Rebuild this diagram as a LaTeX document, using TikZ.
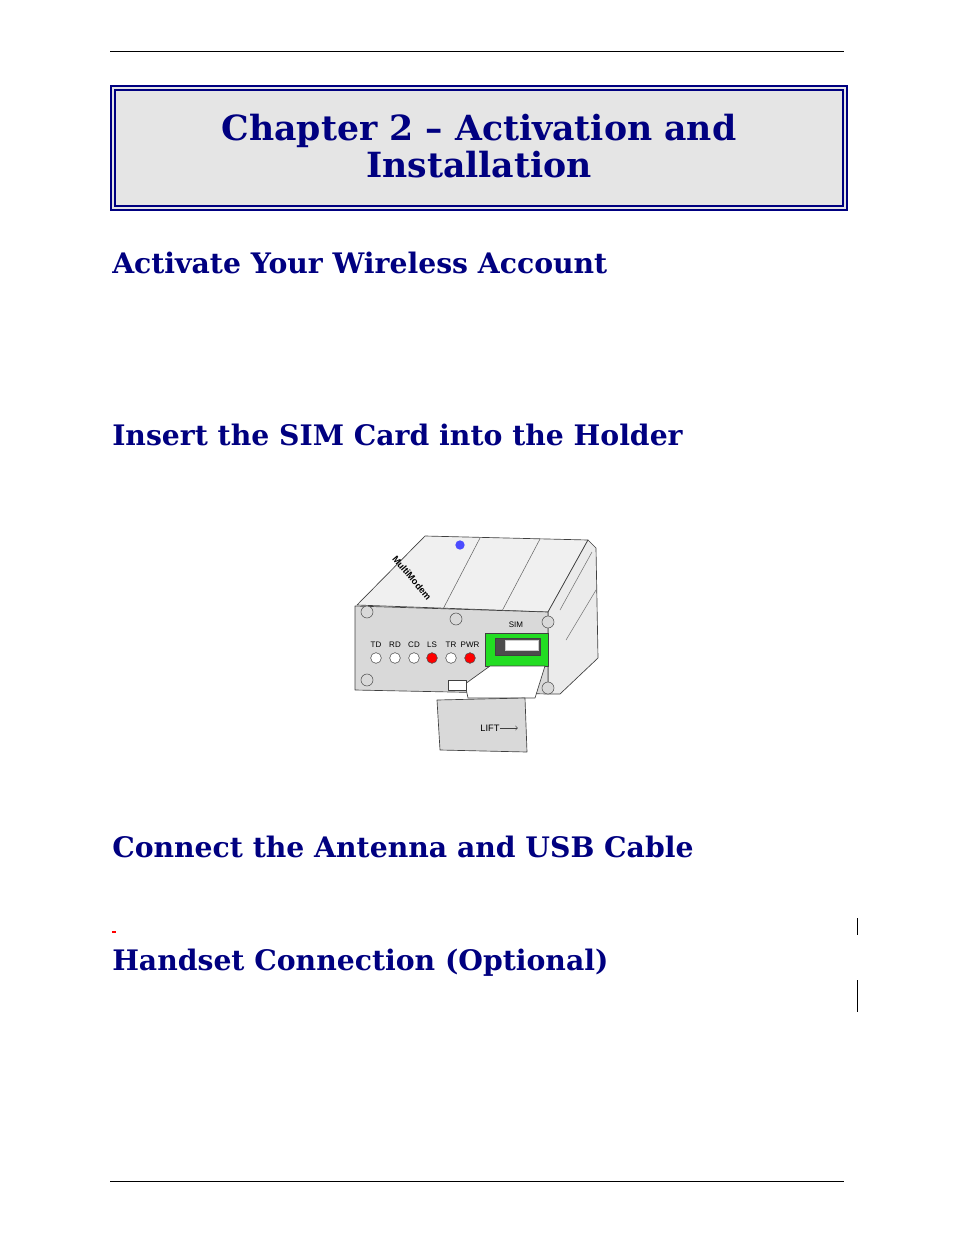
\documentclass[tikz,border=0pt]{standalone}
\usepackage{fontspec}
\setmainfont{DejaVu Serif}
\setsansfont{Liberation Sans}
\definecolor{navy}{HTML}{000080}
\definecolor{panel}{HTML}{D9D9D9}
\definecolor{simgreen}{HTML}{22DD22}
\tikzset{
 head/.style={anchor=base west,inner sep=0pt,text=navy,font=\bfseries\fontsize{21.2}{24}\selectfont},
 ttl/.style={anchor=base,inner sep=0pt,text=navy,font=\bfseries\fontsize{26}{30}\selectfont},
 led/.style={circle,draw=black!70,line width=0.4pt,minimum size=8pt,inner sep=0pt},
 ledlab/.style={font=\sffamily\fontsize{6}{7}\selectfont,inner sep=0pt},
 screw/.style={circle,draw=black!70,fill=black!15,minimum size=9pt,inner sep=0pt},
 dev/.style={draw=black!75,line width=0.5pt,line join=round}
}
\begin{document}
\begin{tikzpicture}[x=0.75pt,y=-0.75pt]
\useasboundingbox (0,0) rectangle (954,1235);
\draw[line width=0.6pt] (110,51) -- (844,51);
\draw[line width=0.6pt] (110,1181) -- (844,1181);
% title box
\draw[navy,line width=0.8pt,fill=black!10] (111,86) rectangle (847,210);
\draw[navy,line width=2.2pt] (115,90) rectangle (843,206);
\node[ttl] (t1) at (479,140) {Chapter 2 – Activation and};
\node[ttl] (t2) at (479,177) {Installation};
% headings
\node[head] (h1) at (112,273) {Activate Your Wireless Account};
\node[head] (h2) at (112,445) {Insert the SIM Card into the Holder};
\node[head] (h3) at (112,857) {Connect the Antenna and USB Cable};
\node[head] (h4) at (112,970) {Handset Connection (Optional)};
\draw[red,line width=0.8pt] (112,932) -- (116,932);
\draw[line width=0.6pt] (857,918) -- (857,935);
\draw[line width=0.6pt] (857,980) -- (857,1012);
% device
\draw[dev,fill=black!6] (357,605) -- (425,536) -- (588,540) -- (548,612) -- cycle;
\foreach \x/\y in {480/538,540/539} \draw[black!60] (\x,\y) -- (\x-38,611);
\draw[dev,fill=black!8] (548,612) -- (588,540) -- (596,548) -- (598,658) -- (560,694) -- (548,694) -- cycle;
\draw[black!55] (560,610) -- (592,552) (566,640) -- (596,590);
\draw[dev,fill=panel] (355,606) -- (548,612) -- (548,694) -- (355,690) -- cycle;
\node[font=\sffamily\bfseries\fontsize{7}{8}\selectfont,rotate=-50,text=black,inner sep=0pt] (brand) at (412,578) {MultiModem};
\node[circle,fill=blue!70,minimum size=7pt,inner sep=0pt] (logo) at (460,545) {};
\foreach \x/\y [count=\i] in {367/612,456/619,548/622,367/680,548/688} \node[screw] (s\i) at (\x,\y) {};
% SIM area
\node[ledlab] (simlab) at (516,625) {SIM};
\draw[dev,fill=simgreen] (485,633) rectangle (548,666);
\draw[dev,fill=black!70] (495,638) rectangle (540,655);
\draw[black!20,fill=white] (505,640) rectangle (538,650);
% LEDs
\foreach \x/\t/\c [count=\i] in {376/TD/white,395/RD/white,414/CD/white,432/LS/red,451/TR/white,470/PWR/red}{
 \node[led,fill=\c] (led\i) at (\x,658) {};
 \node[ledlab] (ll\i) at (\x,645) {\t};
}
% card
\draw[dev,fill=white] (465,684) -- (490,666) -- (545,666) -- (535,698) -- (468,698) -- cycle;
\draw[dev,fill=white] (448,680) rectangle (466,690);
\draw[dev,fill=panel] (437,700) -- (525,698) -- (527,752) -- (440,750) -- cycle;
\node[ledlab,font=\sffamily\fontsize{7}{8}\selectfont] (lift) at (490,728) {LIFT};
\draw[->,black!75] (lift.east) -- ++(18,0);
\end{tikzpicture}
\end{document}
